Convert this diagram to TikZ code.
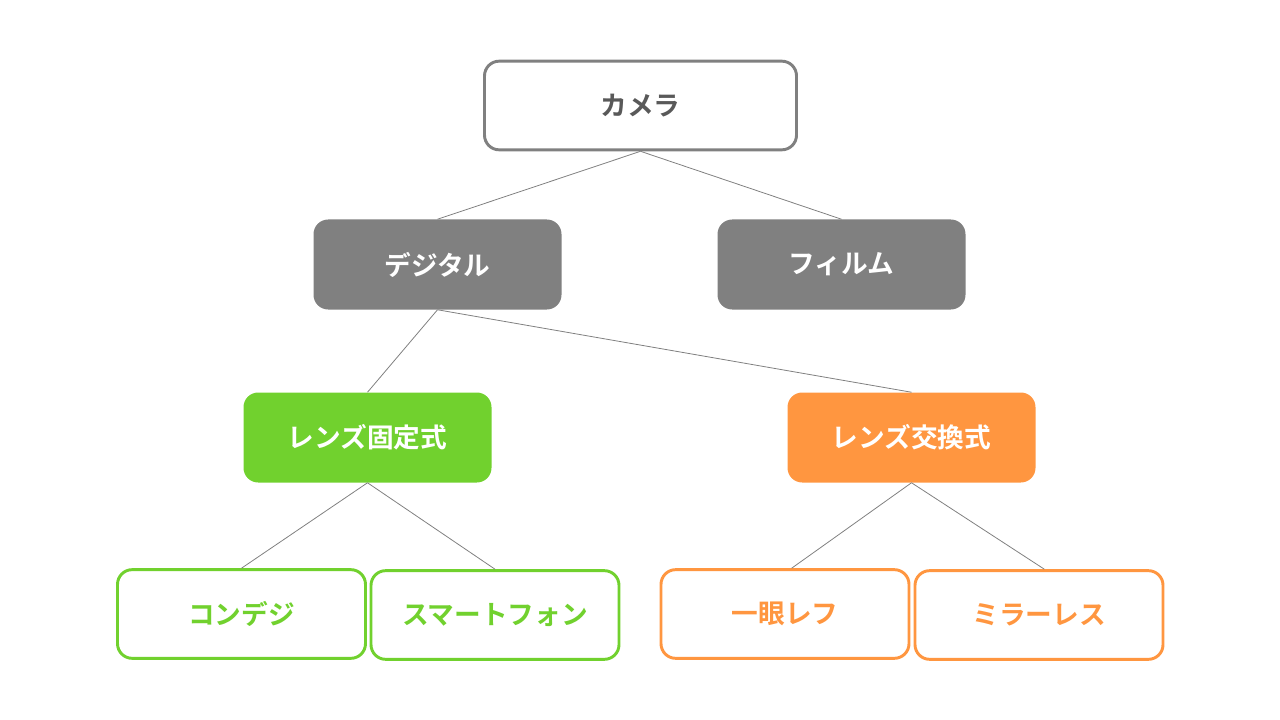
\documentclass[tikz,border=0pt]{standalone}
\usepackage{fontspec}
\setmainfont{Noto Sans CJK JP}[BoldFont={* Bold}]
\usetikzlibrary{shapes,arrows,chains}
\definecolor{boxgray}{HTML}{808080}
\definecolor{textgray}{HTML}{595959}
\definecolor{lensgreen}{HTML}{71D12E}
\definecolor{lensorange}{HTML}{FF9640}
\begin{document}
\begin{tikzpicture}[x=0.75pt, y=-0.75pt,
  every node/.style={font=\fontsize{20}{24}\selectfont\bfseries, rounded corners=11pt},
  topbox/.style={draw=boxgray, line width=2.2pt, fill=white, text=textgray,
    minimum width=234pt, minimum height=66.5pt},
  midbox/.style={fill=boxgray, text=white, minimum width=186pt, minimum height=67.5pt},
  greenbox/.style={fill=lensgreen, text=white, minimum width=186pt, minimum height=67.5pt},
  orangebox/.style={fill=lensorange, text=white, minimum width=186pt, minimum height=67.5pt},
  leafgreen/.style={draw=lensgreen, line width=2.2pt, fill=white, text=lensgreen,
    minimum width=186pt, minimum height=66.5pt},
  leaforange/.style={draw=lensorange, line width=2.2pt, fill=white, text=lensorange,
    minimum width=186pt, minimum height=66.5pt},
  link/.style={draw=boxgray, line width=0.6pt}]
  \useasboundingbox (0,0) rectangle (1280,720);
  % tree
  \node[topbox] (camera) at (640.5, 105.5) {カメラ};
  \node[midbox] (digital) at (437.5, 264.5) {デジタル};
  \node[midbox] (film) at (841.5, 264.5) {フィルム};
  \node[greenbox] (fixed) at (367.5, 437.5) {レンズ固定式};
  \node[orangebox] (swap) at (911.5, 437.5) {レンズ交換式};
  \node[leafgreen] (compact) at (241.5, 614) {コンデジ};
  \node[leafgreen] (phone) at (495, 615) {スマートフォン};
  \node[leaforange] (slr) at (785, 614) {一眼レフ};
  \node[leaforange] (mirrorless) at (1039, 615) {ミラーレス};
  % links
  \draw[link] (camera.south) -- (digital.north);
  \draw[link] (camera.south) -- (film.north);
  \draw[link] (digital.south) -- (fixed.north);
  \draw[link] (digital.south) -- (swap.north);
  \draw[link] (fixed.south) -- (compact.north);
  \draw[link] (fixed.south) -- (phone.north);
  \draw[link] (swap.south) -- ([xshift=5pt]slr.north);
  \draw[link] (swap.south) -- ([xshift=4pt]mirrorless.north);
\end{tikzpicture}
\end{document}
